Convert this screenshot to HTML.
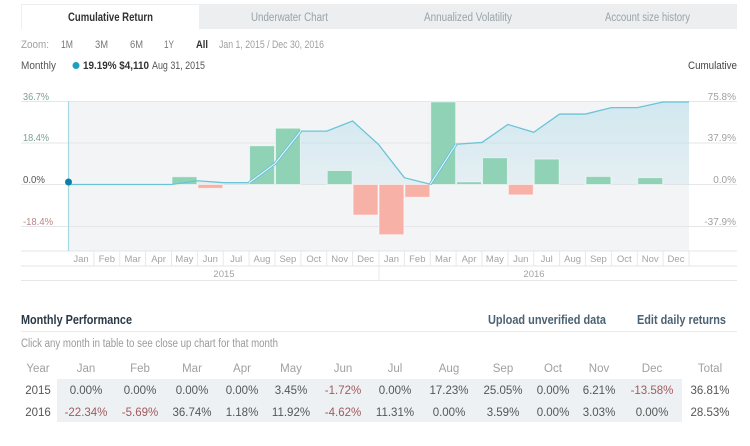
<!DOCTYPE html>
<html><head><meta charset="utf-8"><style>
html,body{margin:0;padding:0;background:#fff;}
svg{display:block;font-family:"Liberation Sans",sans-serif;}
</style></head><body>
<svg width="750" height="446" viewBox="0 0 750 446" xmlns="http://www.w3.org/2000/svg">
<defs>
<linearGradient id="ag" x1="0" y1="101" x2="0" y2="185" gradientUnits="userSpaceOnUse">
<stop offset="0" stop-color="#8fd0e2" stop-opacity="0.34"/>
<stop offset="1" stop-color="#8fd0e2" stop-opacity="0.14"/>
</linearGradient>
</defs>
<rect width="750" height="446" fill="#fff"/>
<!-- tabs -->
<rect x="199" y="4" width="538" height="25" fill="#eceeef"/>
<rect x="21" y="4" width="178" height="25" fill="#fff"/>
<line x1="21" y1="4.5" x2="199" y2="4.5" stroke="#eceeef"/>
<line x1="21.5" y1="4" x2="21.5" y2="29" stroke="#eceeef"/>
<text x="68" y="21" font-size="11.5" font-weight="bold" fill="#333" textLength="85" lengthAdjust="spacingAndGlyphs">Cumulative Return</text>
<text x="251" y="21" font-size="11.5" fill="#98a3aa" textLength="77" lengthAdjust="spacingAndGlyphs">Underwater Chart</text>
<text x="424" y="21" font-size="11.5" fill="#98a3aa" textLength="88" lengthAdjust="spacingAndGlyphs">Annualized Volatility</text>
<text x="605" y="21" font-size="11.5" fill="#98a3aa" textLength="85" lengthAdjust="spacingAndGlyphs">Account size history</text>
<!-- zoom row -->
<g font-size="11">
<text x="21" y="48" fill="#a0a0a0" textLength="28" lengthAdjust="spacingAndGlyphs">Zoom:</text>
<text x="61" y="48" fill="#777" textLength="12" lengthAdjust="spacingAndGlyphs">1M</text>
<text x="95" y="48" fill="#777" textLength="13" lengthAdjust="spacingAndGlyphs">3M</text>
<text x="130" y="48" fill="#777" textLength="13" lengthAdjust="spacingAndGlyphs">6M</text>
<text x="164" y="48" fill="#777" textLength="10" lengthAdjust="spacingAndGlyphs">1Y</text>
<text x="196" y="48" fill="#333" font-weight="bold" textLength="12" lengthAdjust="spacingAndGlyphs">All</text>
<text x="219" y="48" fill="#a0a0a0" textLength="105" lengthAdjust="spacingAndGlyphs">Jan 1, 2015 / Dec 30, 2016</text>
</g>
<!-- monthly row -->
<text x="21" y="69" font-size="11" fill="#555" textLength="35" lengthAdjust="spacingAndGlyphs">Monthly</text>
<circle cx="76" cy="65.5" r="3.5" fill="#1aa0c2"/>
<text x="83" y="69" font-size="11" font-weight="bold" fill="#333" textLength="66" lengthAdjust="spacingAndGlyphs">19.19% $4,110</text>
<text x="152" y="69" font-size="11" fill="#555" textLength="53" lengthAdjust="spacingAndGlyphs">Aug 31, 2015</text>
<text x="737" y="69" font-size="11" fill="#444" text-anchor="end" textLength="49" lengthAdjust="spacingAndGlyphs">Cumulative</text>
<!-- plot bg -->
<rect x="68" y="101" width="621" height="150" fill="#f3f4f6"/>
<!-- gridlines -->
<g stroke="#e4e6e8" stroke-width="1">
<line x1="21" y1="101.5" x2="737" y2="101.5"/>
<line x1="21" y1="143" x2="737" y2="143"/>
<line x1="21" y1="184.5" x2="737" y2="184.5"/>
<line x1="21" y1="226.5" x2="737" y2="226.5"/>
<line x1="21" y1="251" x2="737" y2="251"/>
<line x1="21" y1="266" x2="737" y2="266"/>
<line x1="21" y1="280.5" x2="737" y2="280.5"/>
</g>
<!-- axis labels -->
<g font-size="10">
<text x="23" y="100" fill="#7aa191" textLength="26" lengthAdjust="spacingAndGlyphs">36.7%</text>
<text x="23" y="141" fill="#7aa191" textLength="26" lengthAdjust="spacingAndGlyphs">18.4%</text>
<text x="23" y="183" fill="#555" textLength="22" lengthAdjust="spacingAndGlyphs">0.0%</text>
<text x="23" y="225" fill="#b98784" textLength="30" lengthAdjust="spacingAndGlyphs">-18.4%</text>
<text x="736" y="100" fill="#a0a0a0" text-anchor="end">75.8%</text>
<text x="736" y="141" fill="#a0a0a0" text-anchor="end">37.9%</text>
<text x="736" y="183" fill="#a0a0a0" text-anchor="end">0.0%</text>
<text x="736" y="225" fill="#a0a0a0" text-anchor="end">-37.9%</text>
</g>
<!-- area -->
<path d="M68,184.5 L93.875,184.5 L119.75,184.5 L145.625,184.5 L171.5,184.5 L197.375,180.75 L223.25,182.68 L249.125,182.68 L275,163.61 L300.875,131.11 L326.75,131.11 L352.625,121.05 L378.5,144.45 L404.375,177.71 L430.25,184.28 L456.125,144.22 L482,142.45 L507.875,124.47 L533.75,132.28 L559.625,114.06 L585.5,114.06 L611.375,107.63 L637.25,107.63 L663.125,102 L689,102 L689,184.5 Z" fill="url(#ag)"/>
<!-- bars -->
<g stroke="#ffffff" stroke-opacity="0.55" stroke-width="1">
<g fill="#8fd2b6">
<rect x="172" y="176.74" width="24.9" height="7.76"/>
<rect x="249.6" y="145.77" width="24.9" height="38.73"/>
<rect x="275.5" y="128.19" width="24.9" height="56.31"/>
<rect x="327.25" y="170.54" width="24.9" height="13.96"/>
<rect x="430.75" y="101.91" width="24.9" height="82.59"/>
<rect x="456.6" y="181.85" width="24.9" height="2.65"/>
<rect x="482.5" y="157.7" width="24.9" height="26.8"/>
<rect x="534.25" y="159.08" width="24.9" height="25.42"/>
<rect x="586" y="176.43" width="24.9" height="8.07"/>
<rect x="637.75" y="177.69" width="24.9" height="6.81"/>
</g>
<g fill="#f8b1a7">
<rect x="197.9" y="184.5" width="24.9" height="3.87"/>
<rect x="353.1" y="184.5" width="24.9" height="30.53"/>
<rect x="379" y="184.5" width="24.9" height="50.22"/>
<rect x="404.9" y="184.5" width="24.9" height="12.79"/>
<rect x="508.4" y="184.5" width="24.9" height="10.39"/>
</g>
</g>
<!-- vertical crosshair -->
<line x1="68.5" y1="101" x2="68.5" y2="251" stroke="#a6d7e4" stroke-width="1.2"/>
<!-- line -->
<polyline points="68,184.5 93.875,184.5 119.75,184.5 145.625,184.5 171.5,184.5 197.375,180.75 223.25,182.68 249.125,182.68 275,163.61 300.875,131.11 326.75,131.11 352.625,121.05 378.5,144.45 404.375,177.71 430.25,184.28 456.125,144.22 482,142.45 507.875,124.47 533.75,132.28 559.625,114.06 585.5,114.06 611.375,107.63 637.25,107.63 663.125,102 689,102" fill="none" stroke="#6cc4d8" stroke-width="1.3"/>
<polyline points="249.125,182.68 275,163.61 300.875,131.11" fill="none" stroke="#6cc4d8" stroke-width="3"/>
<polyline points="249.125,182.68 275,163.61 300.875,131.11" fill="none" stroke="#eef8fa" stroke-width="1"/>
<polyline points="430.25,184.28 456.125,144.22" fill="none" stroke="#6cc4d8" stroke-width="3"/>
<polyline points="430.25,184.28 456.125,144.22" fill="none" stroke="#eef8fa" stroke-width="1"/>
<circle cx="68.5" cy="182" r="3.5" fill="#0b7fa8"/>
<!-- month separators -->
<g stroke="#e6e8ea" stroke-width="1">
<line x1="93.9" y1="251" x2="93.9" y2="266"/><line x1="119.75" y1="251" x2="119.75" y2="266"/>
<line x1="145.6" y1="251" x2="145.6" y2="266"/><line x1="171.5" y1="251" x2="171.5" y2="266"/>
<line x1="197.4" y1="251" x2="197.4" y2="266"/><line x1="223.25" y1="251" x2="223.25" y2="266"/>
<line x1="249.1" y1="251" x2="249.1" y2="266"/><line x1="275" y1="251" x2="275" y2="266"/>
<line x1="300.9" y1="251" x2="300.9" y2="266"/><line x1="326.75" y1="251" x2="326.75" y2="266"/>
<line x1="352.6" y1="251" x2="352.6" y2="266"/><line x1="379" y1="251" x2="379" y2="281"/>
<line x1="404.4" y1="251" x2="404.4" y2="266"/><line x1="430.25" y1="251" x2="430.25" y2="266"/>
<line x1="456.1" y1="251" x2="456.1" y2="266"/><line x1="482" y1="251" x2="482" y2="266"/>
<line x1="507.9" y1="251" x2="507.9" y2="266"/><line x1="533.75" y1="251" x2="533.75" y2="266"/>
<line x1="559.6" y1="251" x2="559.6" y2="266"/><line x1="585.5" y1="251" x2="585.5" y2="266"/>
<line x1="611.4" y1="251" x2="611.4" y2="266"/><line x1="637.25" y1="251" x2="637.25" y2="266"/>
<line x1="663.1" y1="251" x2="663.1" y2="266"/><line x1="689" y1="251" x2="689" y2="266"/>
</g>
<g font-size="9.5" fill="#a3a3a3" text-anchor="middle">
<text x="81" y="262">Jan</text><text x="106.8" y="262">Feb</text><text x="132.7" y="262">Mar</text><text x="158.6" y="262">Apr</text>
<text x="184.4" y="262">May</text><text x="210.3" y="262">Jun</text><text x="236.2" y="262">Jul</text><text x="262" y="262">Aug</text>
<text x="287.9" y="262">Sep</text><text x="313.8" y="262">Oct</text><text x="339.7" y="262">Nov</text><text x="365.6" y="262">Dec</text>
<text x="391.4" y="262">Jan</text><text x="417.3" y="262">Feb</text><text x="443.2" y="262">Mar</text><text x="469" y="262">Apr</text>
<text x="494.9" y="262">May</text><text x="520.8" y="262">Jun</text><text x="546.7" y="262">Jul</text><text x="572.6" y="262">Aug</text>
<text x="598.4" y="262">Sep</text><text x="624.3" y="262">Oct</text><text x="650.2" y="262">Nov</text><text x="676" y="262">Dec</text>
<text x="224" y="277">2015</text><text x="534" y="277">2016</text>
</g>
<!-- Monthly performance -->
<text x="21" y="324" font-size="12.5" font-weight="bold" fill="#2b3845" textLength="111" lengthAdjust="spacingAndGlyphs">Monthly Performance</text>
<text x="488" y="324" font-size="12.5" font-weight="bold" fill="#4b6274" textLength="118" lengthAdjust="spacingAndGlyphs">Upload unverified data</text>
<text x="637" y="324" font-size="12.5" font-weight="bold" fill="#4b6274" textLength="89" lengthAdjust="spacingAndGlyphs">Edit daily returns</text>
<line x1="21" y1="331.5" x2="737" y2="331.5" stroke="#e8eaec"/>
<text x="21" y="347" font-size="11.5" fill="#9a9a9a" textLength="257" lengthAdjust="spacingAndGlyphs">Click any month in table to see close up chart for that month</text>
<rect x="57" y="379" width="625" height="43" fill="#eef1f4"/>
<g font-size="11.5" text-anchor="middle" fill="#a0a0a0">
<text x="38" y="372">Year</text><text x="86" y="372">Jan</text><text x="140" y="372">Feb</text><text x="192" y="372">Mar</text>
<text x="242" y="372">Apr</text><text x="291" y="372">May</text><text x="343" y="372">Jun</text><text x="395" y="372">Jul</text>
<text x="449" y="372">Aug</text><text x="503" y="372">Sep</text><text x="553" y="372">Oct</text><text x="599" y="372">Nov</text>
<text x="652" y="372">Dec</text><text x="710" y="372">Total</text>
</g>
<g font-size="11.5" text-anchor="middle" fill="#555">
<text x="38" y="394">2015</text><text x="86" y="394">0.00%</text><text x="140" y="394">0.00%</text><text x="192" y="394">0.00%</text>
<text x="242" y="394">0.00%</text><text x="291" y="394">3.45%</text><text x="343" y="394" fill="#a05a5e">-1.72%</text><text x="395" y="394">0.00%</text>
<text x="449" y="394">17.23%</text><text x="503" y="394">25.05%</text><text x="553" y="394">0.00%</text><text x="599" y="394">6.21%</text>
<text x="652" y="394" fill="#a05a5e">-13.58%</text><text x="710" y="394">36.81%</text>
<text x="38" y="416">2016</text><text x="86" y="416" fill="#a05a5e">-22.34%</text><text x="140" y="416" fill="#a05a5e">-5.69%</text><text x="192" y="416">36.74%</text>
<text x="242" y="416">1.18%</text><text x="291" y="416">11.92%</text><text x="343" y="416" fill="#a05a5e">-4.62%</text><text x="395" y="416">11.31%</text>
<text x="449" y="416">0.00%</text><text x="503" y="416">3.59%</text><text x="553" y="416">0.00%</text><text x="599" y="416">3.03%</text>
<text x="652" y="416">0.00%</text><text x="710" y="416">28.53%</text>
</g>
</svg>
</body></html>
